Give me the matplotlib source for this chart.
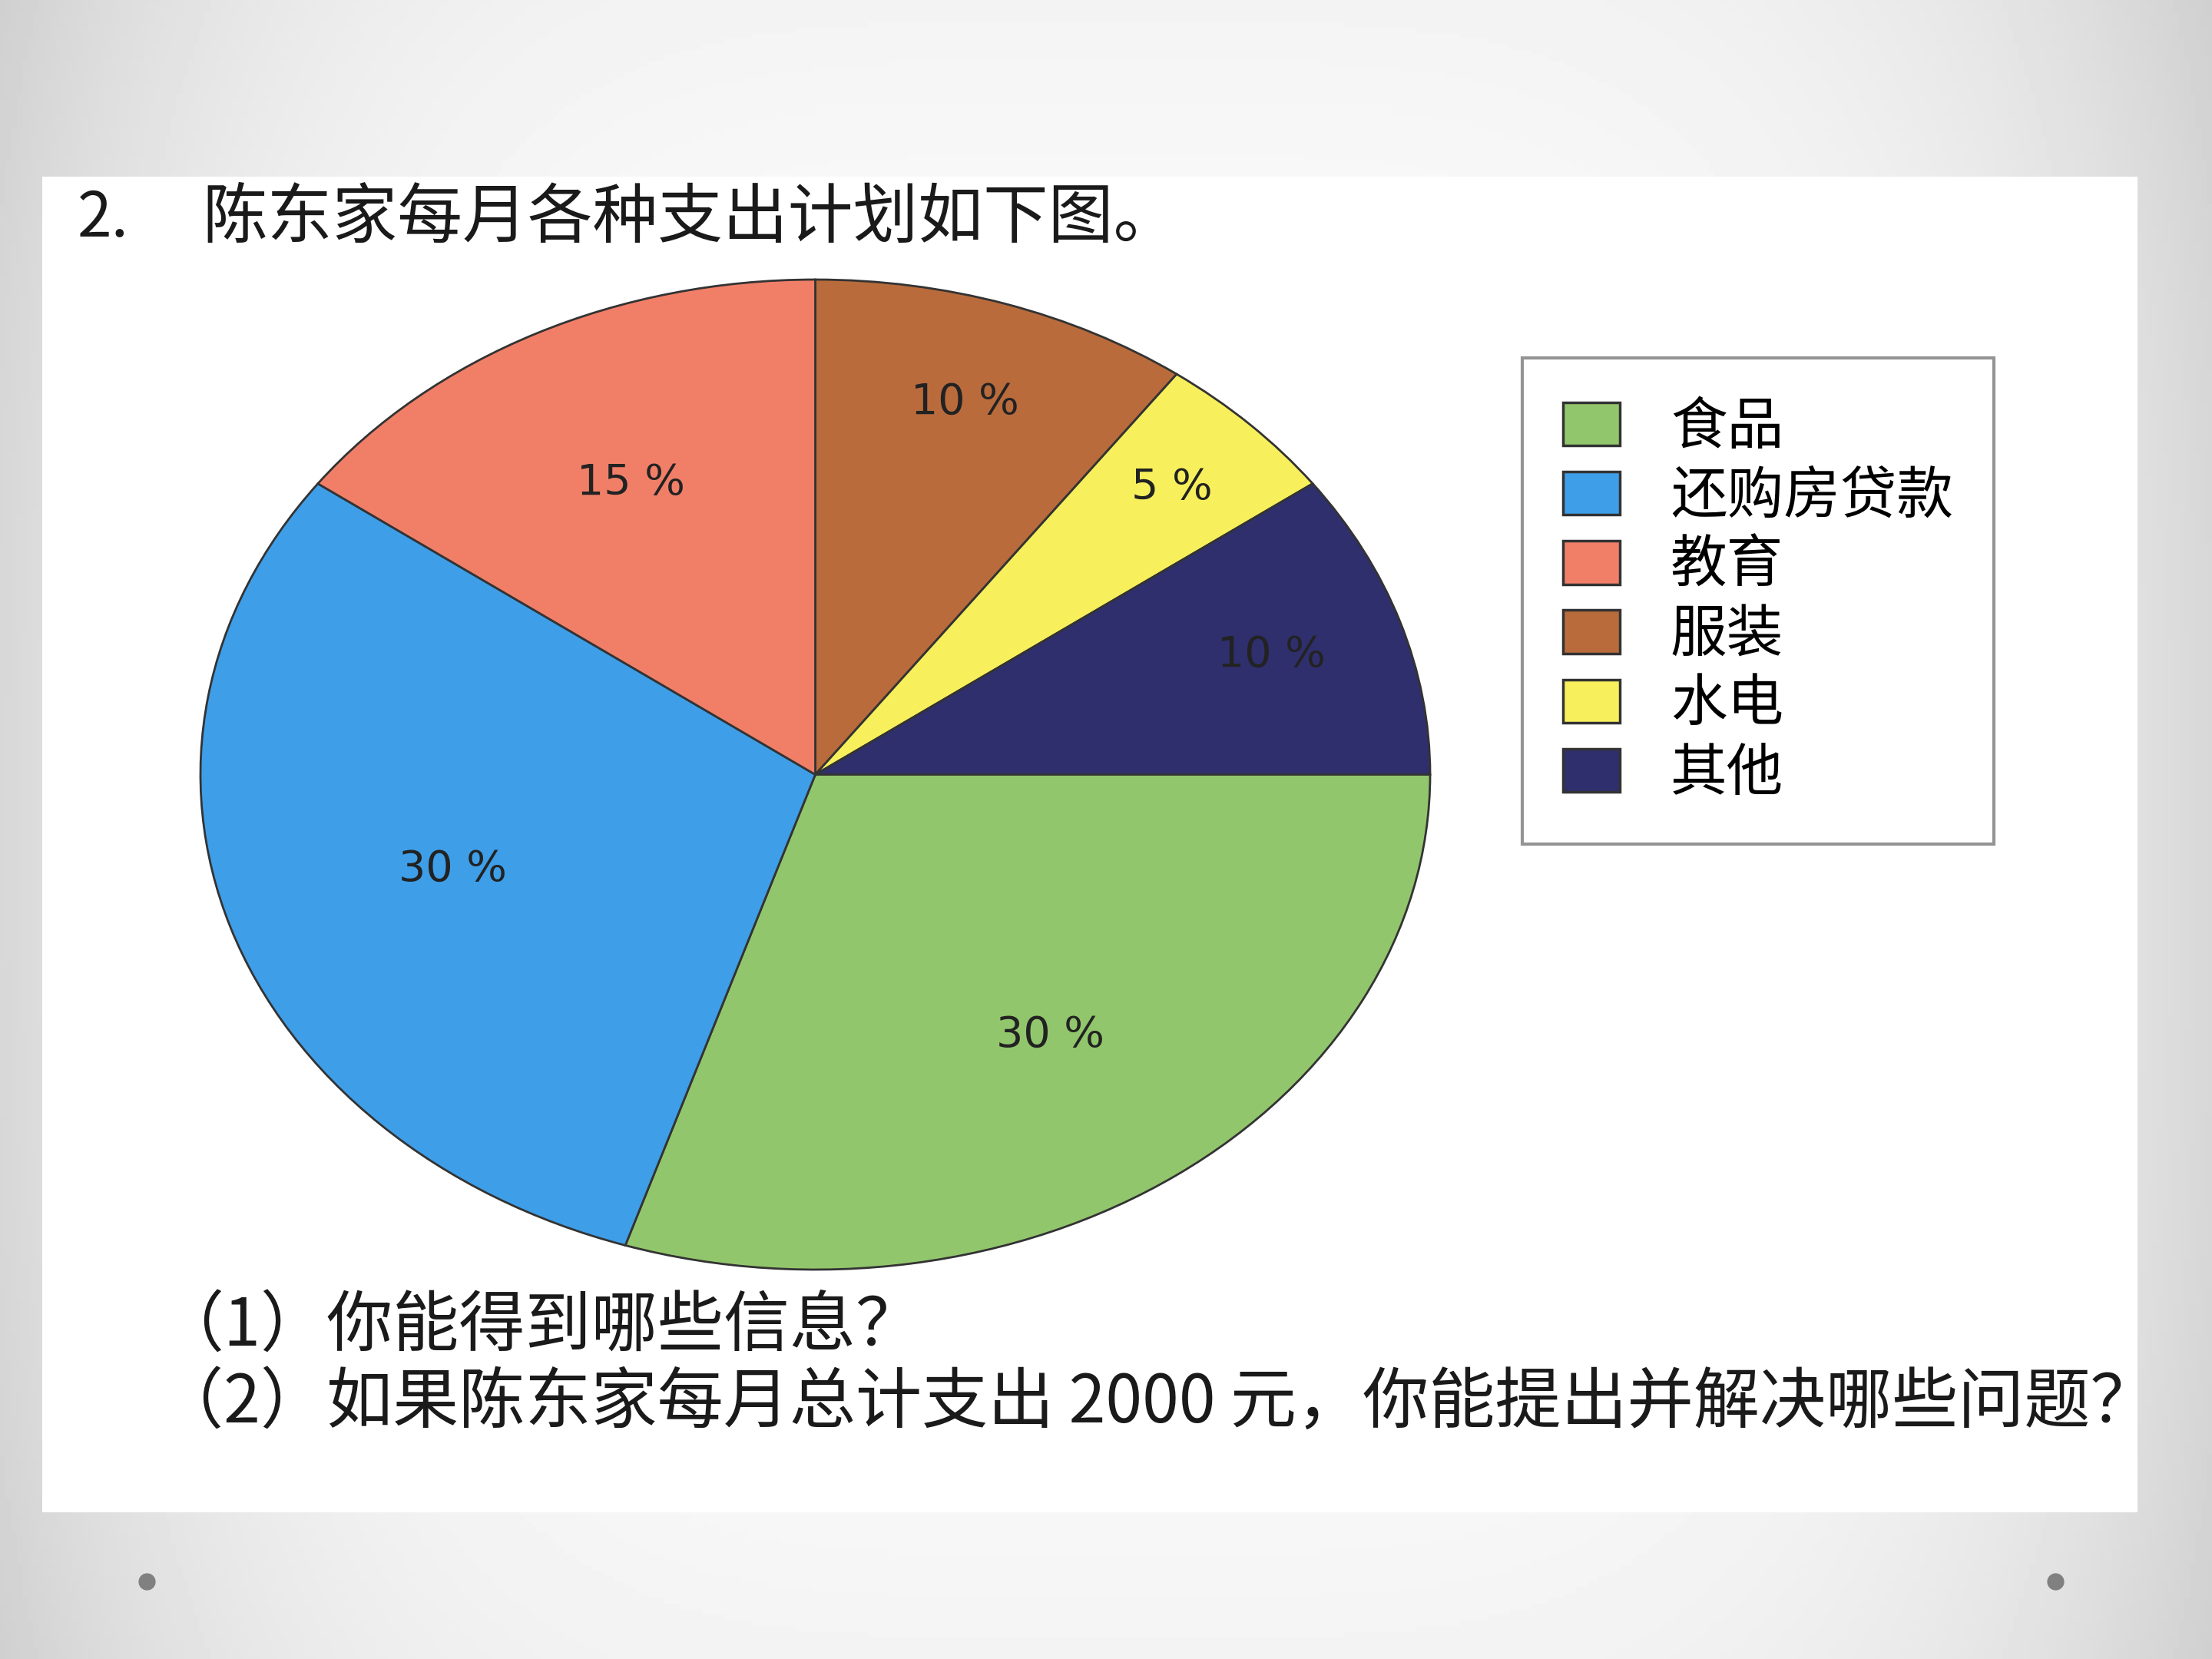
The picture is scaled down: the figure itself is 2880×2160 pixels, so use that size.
import numpy as np
import matplotlib.pyplot as plt
from matplotlib.patches import Rectangle, Patch

plt.rcParams['font.family'] = ['Noto Sans CJK SC', 'DejaVu Sans']

# 饼图数据（从正上方开始顺时针）
categories = ['服装', '水电', '其他', '食品', '还购房贷款', '教育']
shares = [10, 5, 10, 30, 30, 15]
colors = ['#b96b3c', '#f7f05c', '#2f2f6e', '#92c66c', '#3e9ee8', '#f17f68']
legend_order = ['食品', '还购房贷款', '教育', '服装', '水电', '其他']
label_r = [0.79, 0.82, 0.78, 0.65, 0.62, 0.66]

title_no = '2.'
title = '陈东家每月各种支出计划如下图。'
question1 = '（1）你能得到哪些信息？'
question2 = '（2）如果陈东家每月总计支出 2000 元，你能提出并解决哪些问题？'

W, H = 2880, 2160
fig = plt.figure(figsize=(W / 100, H / 100), dpi=100)

# slide background: soft gray gradient, white picture area, two dots
bg = fig.add_axes([0, 0, 1, 1], zorder=-1)
gx, gy = np.meshgrid(np.linspace(-1, 1, 400), np.linspace(-1, 1, 300))
grad = 0.985 - 0.14 * np.abs(gx) ** 4 - 0.03 * np.abs(gy) ** 3
bg.imshow(grad, extent=[0, 1, 0, 1], aspect='auto', cmap='gray', vmin=0, vmax=1)
bg.add_patch(Rectangle((55 / W, 1 - 1969 / H), (2783 - 55) / W, (1969 - 230) / H,
                       facecolor='white', edgecolor='none'))
bg.plot([191 / W, 2676 / W], [1 - 2059 / H] * 2, 'o', color='#808080', ms=15)
bg.set_xlim(0, 1)
bg.set_ylim(0, 1)
bg.axis('off')

# pie (stretched into an ellipse like the scanned picture)
ax = fig.add_axes([261 / W, 1 - 1653 / H, 1601 / W, 1289 / H])
wedges, _ = ax.pie(shares, colors=colors, startangle=90, counterclock=False,
                   wedgeprops=dict(edgecolor='#333333', linewidth=2))
ax.set_aspect('auto')
ax.set_xlim(-1, 1)
ax.set_ylim(-1, 1)

start = 0
for s, r in zip(shares, label_r):
    mid = np.deg2rad(90 - (start + s / 2) * 3.6)
    ax.text(r * np.cos(mid), r * np.sin(mid), f'{s} %', ha='center', va='center',
            fontsize=40, family='DejaVu Sans', color='#222222')
    start += s

# legend
handles = [Patch(facecolor=colors[categories.index(c)], edgecolor='#333333', linewidth=2.5)
           for c in legend_order]
leg = fig.legend(handles, legend_order, loc='upper left',
                 bbox_to_anchor=(1982 / W, 1 - 466 / H), frameon=True, fancybox=False,
                 edgecolor='#7a7a7a', prop=dict(size=53, weight='medium'),
                 handlelength=1.0, handleheight=0.8, handletextpad=0.9,
                 labelspacing=0.2, borderpad=0.72, borderaxespad=0)
leg.get_frame().set_linewidth(3)

# texts
fig.text(101 / W, 1 - 285 / H, title_no, fontsize=58, weight='medium', va='center', color='#1a1a1a')
fig.text(263 / W, 1 - 285 / H, title, fontsize=61, weight='medium', va='center', color='#1a1a1a')
fig.text(205 / W, 1 - 1727 / H, question1, fontsize=62, weight='medium', va='center', color='#1a1a1a')
fig.text(205 / W, 1 - 1828 / H, question2, fontsize=62, weight='medium', va='center', color='#1a1a1a')

fig.savefig('out.png', dpi=100)
